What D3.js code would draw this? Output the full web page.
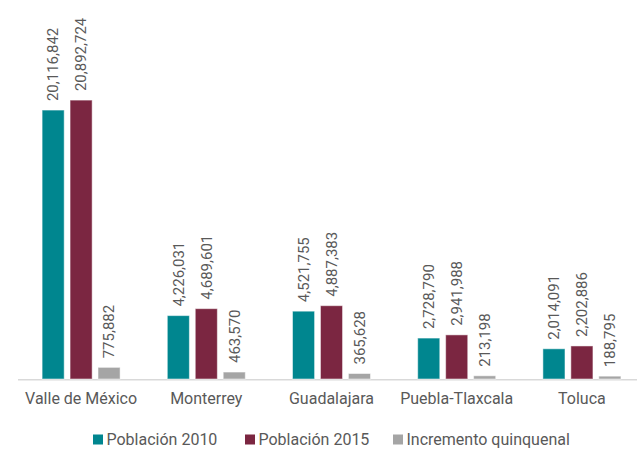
<!DOCTYPE html>
<html>
<head>
<meta charset="utf-8">
<script src="https://cdn.jsdelivr.net/npm/d3@7"></script>
<style>
  body { margin: 0; background: #fff; }
  text { font-family: Roboto, "Liberation Sans", sans-serif; fill: #595959; }
</style>
</head>
<body>
<svg id="chart" width="637" height="449"></svg>
<script>
var cities = ["Valle de México", "Monterrey", "Guadalajara", "Puebla-Tlaxcala", "Toluca"];
var series = ["Población 2010", "Población 2015", "Incremento quinquenal"];
var pob2010 = [20116842, 4226031, 4521755, 2728790, 2014091];
var pob2015 = [20892724, 4689601, 4887383, 2941988, 2202886];
var incremento = [775882, 463570, 365628, 213198, 188795];
var colors = ["#00868f", "#7b2641", "#a5a5a5"];

var width = 637, height = 449;
var baseline = 379;

var rows = [];
cities.forEach(function(c, i) {
  rows.push({city: c, values: [pob2010[i], pob2015[i], incremento[i]]});
});

var svg = d3.select("#chart");

var x0 = d3.scaleBand().domain(cities).range([18.5, 644.5]);
var x1 = d3.scaleBand().domain(series)
  .range([x0.bandwidth() / 2 - 39, x0.bandwidth() / 2 + 39])
  .paddingInner(0.21);

// the picture squeezes the tallest group, so a two-piece scale follows it
var y = d3.scaleLinear()
  .domain([0, 4900000, 20900000])
  .range([baseline, 305.5, 100]);

// axis line
svg.append("line")
  .attr("x1", 18).attr("x2", width)
  .attr("y1", baseline + 0.8).attr("y2", baseline + 0.8)
  .attr("stroke", "#d9d9d9")
  .attr("stroke-width", 1.6);

var groups = svg.selectAll("g.city").data(rows).enter()
  .append("g")
  .attr("class", "city")
  .attr("transform", function(d) { return "translate(" + x0(d.city) + ",0)"; });

groups.selectAll("rect").data(function(d) { return d.values; }).enter()
  .append("rect")
  .attr("x", function(d, i) { return x1(series[i]); })
  .attr("y", function(d) { return y(d); })
  .attr("width", x1.bandwidth())
  .attr("height", function(d) { return baseline - y(d); })
  .attr("fill", function(d, i) { return colors[i]; })
  .attr("stroke", "#fff")
  .attr("stroke-opacity", 0.5)
  .attr("stroke-width", 1);

var fmt = d3.format(",");
groups.selectAll("text.val").data(function(d) { return d.values; }).enter()
  .append("text")
  .attr("class", "val")
  .attr("transform", function(d, i) {
    return "translate(" + (x1(series[i]) + x1.bandwidth() / 2) + "," + (y(d) - 9) + ") rotate(-90)";
  })
  .attr("dy", "0.35em")
  .attr("font-size", "15px")
  .text(function(d) { return fmt(d); });

// category labels
svg.selectAll("text.cat").data(cities).enter()
  .append("text")
  .attr("class", "cat")
  .attr("x", function(d) { return x0(d) + x0.bandwidth() / 2; })
  .attr("y", 404)
  .attr("text-anchor", "middle")
  .attr("font-size", "16px")
  .text(function(d) { return d; });

// legend
var legendX = [93, 245, 393];
var legend = svg.selectAll("g.leg").data(series).enter()
  .append("g")
  .attr("class", "leg")
  .attr("transform", function(d, i) { return "translate(" + legendX[i] + ",434.5)"; });
legend.append("rect")
  .attr("width", 10).attr("height", 10)
  .attr("fill", function(d, i) { return colors[i]; });
legend.append("text")
  .attr("x", 13.5).attr("y", 10)
  .attr("font-size", "16px")
  .text(function(d) { return d; });
</script>
</body>
</html>
